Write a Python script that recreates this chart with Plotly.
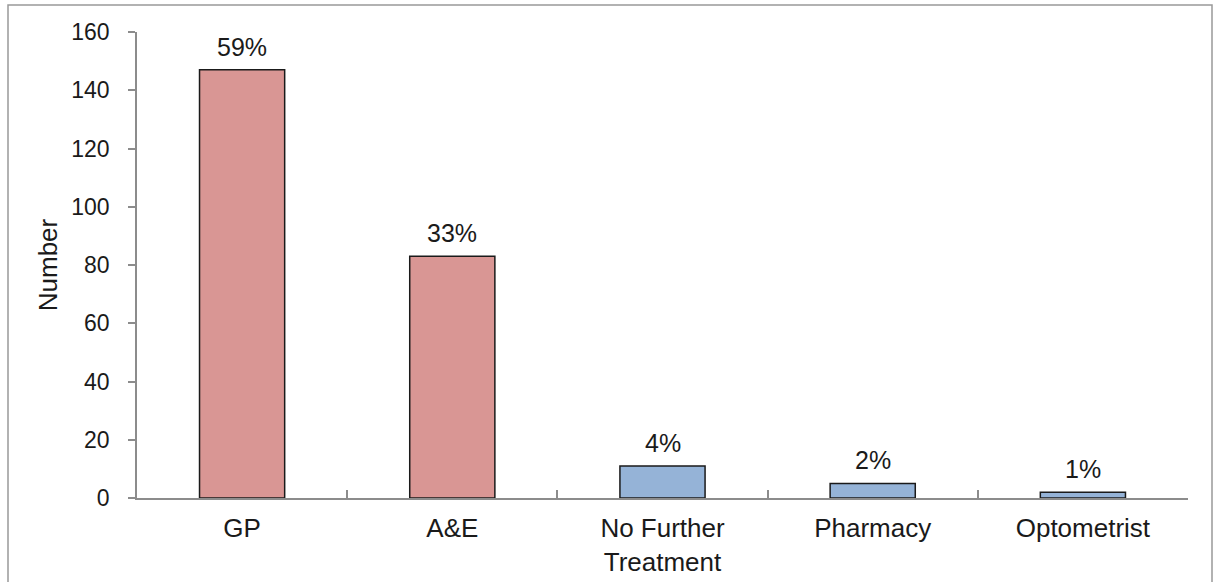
import plotly.graph_objects as go

# Where patients went next
categories = ["GP", "A&E", "No Further<br>Treatment", "Pharmacy", "Optometrist"]
counts = [147, 83, 11, 5, 2]
share_labels = ["59%", "33%", "4%", "2%", "1%"]
bar_colors = ["#D99694", "#D99694", "#95B3D7", "#95B3D7", "#95B3D7"]

W, H = 1218, 582
L, R, T, B = 137, 30, 32, 84
pw, ph = W - L - R, H - T - B

font = "Liberation Sans, Arial, sans-serif"
ink = "#1a1a1a"
axis_grey = "#8c8c8c"

fig = go.Figure(
    go.Bar(
        x=categories,
        y=counts,
        width=0.405,
        marker=dict(color=bar_colors, line=dict(color=ink, width=1.5)),
        hoverinfo="x+y",
    )
)

# Percentage share above each bar
for cat, n, lab in zip(categories, counts, share_labels):
    fig.add_annotation(
        x=cat,
        y=n,
        text=lab,
        showarrow=False,
        yanchor="bottom",
        yshift=7,
        font=dict(family=font, size=25, color=ink),
    )

fig.update_layout(
    width=W,
    height=H,
    margin=dict(l=L, r=R, t=T, b=B),
    paper_bgcolor="white",
    plot_bgcolor="white",
    showlegend=False,
    font=dict(family=font, size=24, color=ink),
    xaxis=dict(
        type="category",
        range=[-0.5, 4.5],
        automargin=False,
        showline=True,
        linecolor=axis_grey,
        linewidth=1.5,
        showgrid=False,
        ticks="inside",
        tickson="boundaries",
        ticklen=8,
        tickcolor=axis_grey,
        tickwidth=1.5,
        ticklabelstandoff=6,
        tickfont=dict(family=font, size=26, color=ink),
        zeroline=False,
    ),
    yaxis=dict(
        range=[0, 160],
        dtick=20,
        automargin=False,
        showline=True,
        linecolor=axis_grey,
        linewidth=1.5,
        showgrid=False,
        ticks="outside",
        ticklen=7,
        tickcolor=axis_grey,
        tickwidth=1.5,
        ticklabelstandoff=14,
        tickfont=dict(family=font, size=23, color=ink),
        zeroline=False,
        title=dict(text="Number", font=dict(family=font, size=26, color=ink), standoff=6),
    ),
)

# Thin grey frame around the whole chart
fig.add_shape(
    type="rect",
    xref="paper",
    yref="paper",
    x0=(8 - L) / pw,
    x1=(1212 - L) / pw,
    y0=(H - B - 600) / ph,
    y1=(H - B - 5) / ph,
    line=dict(color="#999999", width=1.5),
    fillcolor="rgba(0,0,0,0)",
    layer="below",
)

fig.write_html("out.html")
